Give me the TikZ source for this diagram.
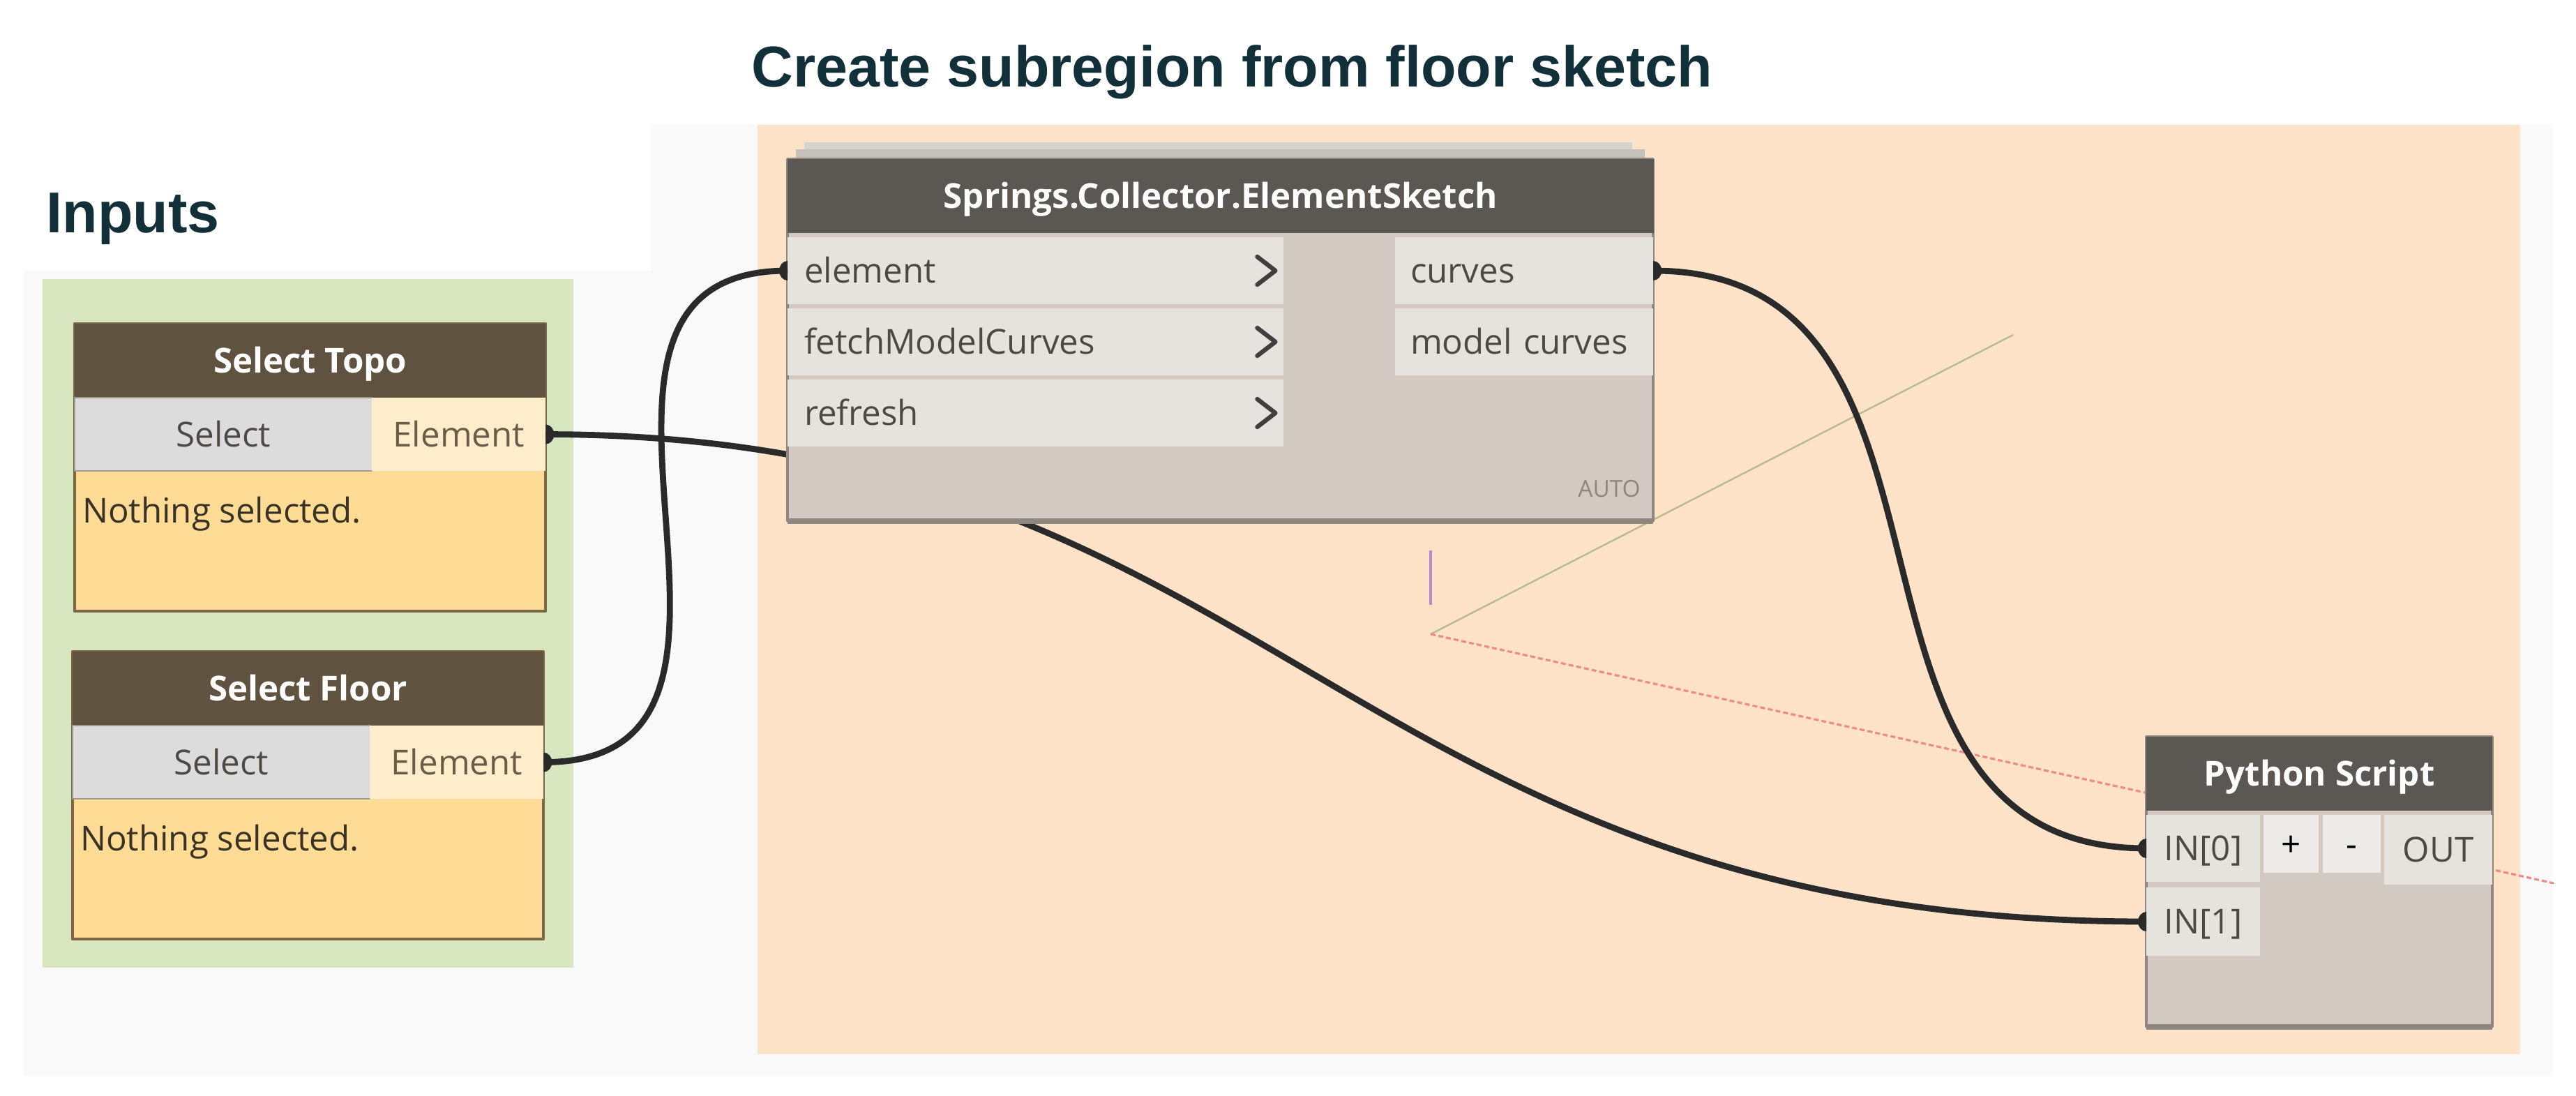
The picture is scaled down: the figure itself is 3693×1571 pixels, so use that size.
\documentclass[tikz,border=0pt]{standalone}
\usepackage{fontspec}
\setmainfont{Open Sans}
\newfontfamily\titlefont{Liberation Sans}
\usetikzlibrary{positioning}

\definecolor{bggray}{HTML}{F9F9F9}
\definecolor{groupgreen}{HTML}{D8E7BF}
\definecolor{grouppeach}{HTML}{FFE3C8}
\definecolor{selhead}{HTML}{5F523E}
\definecolor{selbody}{HTML}{FEDC95}
\definecolor{selborder}{HTML}{7D6845}
\definecolor{btngray}{HTML}{DCDCDC}
\definecolor{btnborder}{HTML}{A09A90}
\definecolor{elemcream}{HTML}{FEEDCB}
\definecolor{elemtext}{HTML}{6A5C48}
\definecolor{msgtext}{HTML}{3A3224}
\definecolor{headgray}{HTML}{5B5853}
\definecolor{bodygray}{HTML}{D2CAC2}
\definecolor{rowgray}{HTML}{E6E3DE}
\definecolor{porttext}{HTML}{4D4A46}
\definecolor{nodeborder}{HTML}{8D8780}
\definecolor{stackgray}{HTML}{C4C1BB}
\definecolor{wirecol}{HTML}{2A2A2A}
\definecolor{axisgreen}{HTML}{B8BC8A}
\definecolor{axisred}{HTML}{F08A84}
\definecolor{axispurple}{HTML}{B58BD0}
\definecolor{titlecol}{HTML}{12303A}

% port tabs where the wires meet the nodes
\newcommand{\outtab}[1]{\fill[wirecol] (#1) ++(0,0.14cm) arc[start angle=90, end angle=-90, x radius=0.12cm, y radius=0.14cm] -- cycle;}
\newcommand{\intab}[1]{\fill[wirecol] (#1) ++(0,0.14cm) arc[start angle=90, end angle=270, x radius=0.12cm, y radius=0.14cm] -- cycle;}

\begin{document}
\begin{tikzpicture}[x=0.01cm, y=-0.01cm, line join=round]
    \tikzstyle{cell}=[anchor=north west, inner sep=0pt, outer sep=0pt, text height=10.2pt, text depth=0pt, font=\fontsize{14}{17}\selectfont]
    \tikzstyle{head}=[cell, fill=headgray, text=white, font=\fontsize{14}{17}\selectfont\bfseries]
    \tikzstyle{port}=[cell, fill=rowgray, text=porttext]
    \tikzstyle{wire}=[draw=wirecol, line width=2.5pt]
    \tikzstyle{chev}=[draw=wirecol!90, line width=1.8pt, line cap=round]
    \tikzstyle{title}=[anchor=base west, inner sep=0pt, text=titlecol, font=\titlefont\fontsize{23.5}{28}\selectfont\bfseries]

    \useasboundingbox (0,0) rectangle (3693,1571);
    \fill[white] (0,0) rectangle (3693,1571);
    \fill[bggray] (933,179) -- (3659,179) -- (3659,1542) -- (34,1542) -- (34,388) -- (933,388) -- cycle;
    \fill[groupgreen] (61,400) rectangle (822,1387);
    \fill[grouppeach] (1086,179) rectangle (3613,1511);

    \node[title] (mainTitle) at (1077,125) {Create subregion from floor sketch};
    \node[title] (inputsTitle) at (66,334) {Inputs};

    % background preview axes
    \draw[axisgreen, line width=0.7pt] (2051,909) -- (2886,480);
    \draw[axisred, line width=0.9pt, dash pattern=on 2pt off 1.2pt] (2051,909) -- (3661,1266);
    \draw[axispurple, line width=0.9pt] (2051,789) -- (2051,867);

    % input selection nodes
    \foreach \name/\ttl/\x/\y in {topo/Select Topo/107/464, floor/Select Floor/104/934}{
        \draw[draw=selborder, line width=1.2pt, fill=selbody] (\x,\y) rectangle ++(675,412);
        \node[cell, fill=selhead, text=white, font=\fontsize{14}{17}\selectfont\bfseries, minimum width=6.75cm, minimum height=1.06cm] (\name Head) at (\x,\y) {\ttl};
        \node[cell, fill=btngray, draw=btnborder, text=porttext, minimum width=4.26cm, minimum height=1.05cm] (\name Btn) at (\name Head.south west) {Select};
        \node[cell, fill=elemcream, text=elemtext, minimum width=2.49cm, minimum height=1.05cm] (\name Elem) at (\name Btn.north east) {Element};
        \node[cell, anchor=west, text=msgtext] (\name Msg) at ([shift={(11,56)}]\name Btn.south west) {Nothing selected.};
    }

    % python node
    \draw[draw=nodeborder, line width=1pt, fill=bodygray] (3077,1056) rectangle (3573,1472);
    \draw[nodeborder, line width=2.5pt] (3077,1472) -- (3573,1472);
    \node[head, minimum width=4.96cm, minimum height=1.06cm] (pyHead) at (3077,1056) {Python Script};
    \node[port, minimum width=1.63cm, minimum height=0.96cm] (pyIn0) at (3077,1168) {IN[0]};
    \node[port, minimum width=1.63cm, minimum height=0.98cm] (pyIn1) at (3077,1272) {IN[1]};
    \node[port, fill=rowgray!70!white, minimum width=0.79cm, minimum height=0.83cm, text=black] (pyPlus) at (3245,1168) {+};
    \node[port, fill=rowgray!70!white, minimum width=0.83cm, minimum height=0.83cm, text=black] (pyMinus) at (3330,1168) {-};
    \node[port, minimum width=1.55cm, minimum height=1.0cm] (pyOut) at (3418,1168) {OUT};

    \draw[wire] (topoElem.east) .. controls +(1050,0) and +(-1150,0) .. (pyIn1.west);

    % element sketch node
    \fill[stackgray!70!white] (1153,204) rectangle (2340,218);
    \fill[stackgray] (1141,214) rectangle (2358,228);
    \draw[draw=nodeborder, line width=1pt, fill=bodygray] (1129,228) rectangle (2370,747);
    \draw[nodeborder, line width=2.5pt] (1129,747) -- (2370,747);
    \node[head, minimum width=12.41cm, minimum height=1.06cm] (sHead) at (1129,228) {Springs.Collector.ElementSketch};
    \foreach \i/\lbl/\y in {1/element/340, 2/fetchModelCurves/442, 3/refresh/544}
        \node[port, minimum height=0.96cm, text width=6.63cm, inner xsep=0.24cm, align=left] (sIn\i) at (1129,\y) {\lbl};
    \foreach \i/\lbl/\y in {1/curves/340, 2/model curves/442}
        \node[port, minimum height=0.96cm, text width=3.26cm, inner xsep=0.22cm, align=left] (sOut\i) at (2000,\y) {\lbl};
    \foreach \i in {1,2,3}
        \draw[chev] (sIn\i.east) ++(-38,-20) -- ++(26,20) -- ++(-26,20);
    \node[font=\fontsize{9.5}{11}\selectfont, text=nodeborder] (sAuto) at (2307,701) {AUTO};

    \draw[wire] (floorElem.east) .. controls +(400,0) and +(-400,0) .. (sIn1.west);
    \draw[wire] (sOut1.east) .. controls +(500,0) and +(-500,0) .. (pyIn0.west);

    \outtab{topoElem.east}
    \outtab{floorElem.east}
    \outtab{sOut1.east}
    \intab{sIn1.west}
    \intab{pyIn0.west}
    \intab{pyIn1.west}
\end{tikzpicture}
\end{document}
